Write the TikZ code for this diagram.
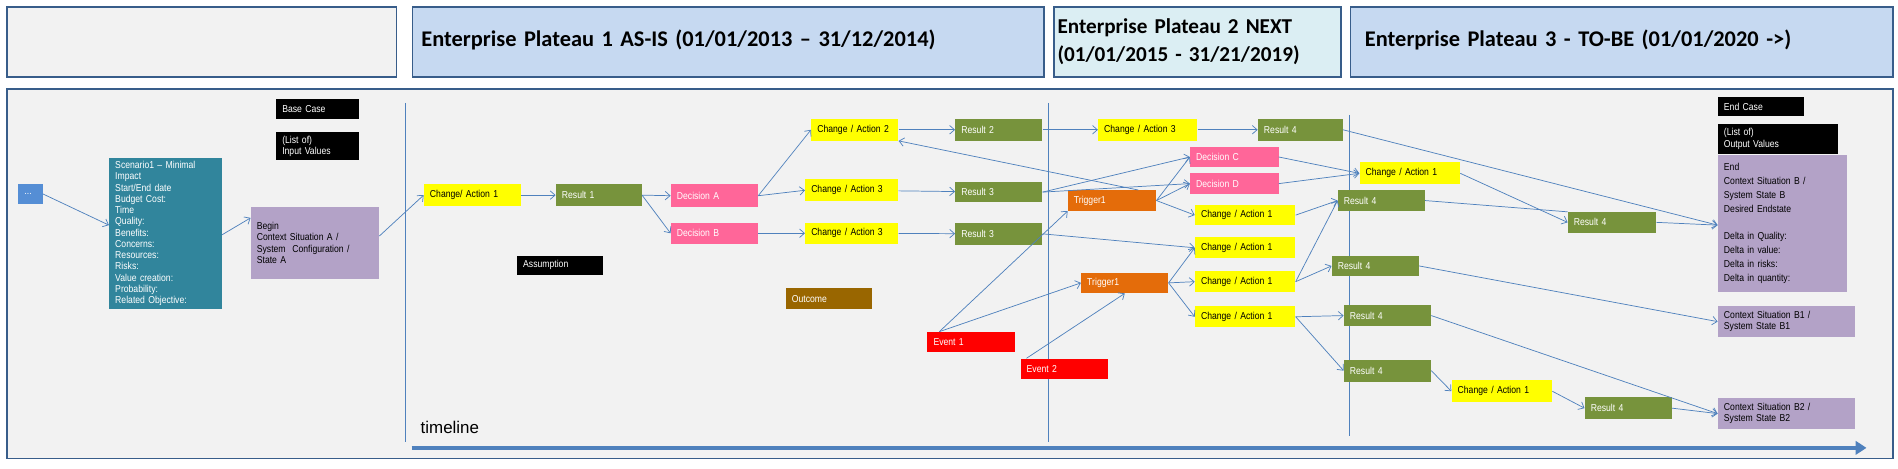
\documentclass[tikz,border=0pt]{standalone}
\usepackage{fontspec}
\setmainfont{Liberation Sans}
\newfontfamily\nar[FakeStretch=0.86]{Liberation Sans}
\newfontfamily\hdr{Carlito}
\usetikzlibrary{arrows.meta}
\definecolor{frameb}{HTML}{385D8A}
\definecolor{ln}{HTML}{4F81BD}
\definecolor{ylw}{HTML}{FFFF00}
\definecolor{grn}{HTML}{77933C}
\definecolor{pnk}{HTML}{FF6699}
\definecolor{org}{HTML}{E46C0A}
\definecolor{prp}{HTML}{B3A2C7}
\definecolor{teal}{HTML}{31859C}
\definecolor{brn}{HTML}{996600}
\definecolor{lbl}{HTML}{558ED5}
\definecolor{bgg}{HTML}{F2F2F2}
\definecolor{hb1}{HTML}{C6D9F1}
\definecolor{hb2}{HTML}{DBEEF3}
\tikzset{
 bx/.style={anchor=north west,inner xsep=5pt,inner ysep=2pt,align=left,font=\nar\fontsize{8.3}{9.3}\selectfont},
 ca/.style={bx,fill=ylw,text=black},
 rs/.style={bx,fill=grn,text=white},
 dc/.style={bx,fill=pnk,text=white},
 tg/.style={bx,fill=org,text=white},
 ev/.style={bx,fill=red,text=white},
 bk/.style={bx,fill=black,text=white},
 pp/.style={bx,fill=prp,text=black},
 ar/.style={draw=ln,line width=0.6pt,-{Straight Barb[length=4pt,width=7pt]}},
 hd/.style={draw=frameb,line width=1.3pt,anchor=north west,inner sep=0pt}
}
\newcommand\bxn[7]{\node[#6,minimum width={#4-#2},minimum height={#5-#3},text width={#4-#2-10}] (#1) at (#2,#3) {#7};}
\begin{document}
\begin{tikzpicture}[x=1pt,y=-1pt]
\useasboundingbox (0,0) rectangle (1568,387);
\fill[white] (0,0) rectangle (1568,387);
% header boxes
\node[hd,fill=bgg,minimum width=322,minimum height=58] (h0) at (5,5) {};
\node[hd,fill=hb1,minimum width=522,minimum height=58,text width=515,align=left,font=\hdr\bfseries\fontsize{18.5}{22}\selectfont] (h1) at (340,5) {\hspace*{4pt}\raisebox{7pt}{Enterprise Plateau 1 AS-IS (01/01/2013 – 31/12/2014)}};
\node[hd,fill=hb2,minimum width=237,minimum height=58,text width=235,align=left,font=\hdr\bfseries\fontsize{17.5}{23}\selectfont] (h2) at (870,5) {\hspace*{2pt}Enterprise Plateau 2 NEXT\\ \hspace*{2pt}(01/01/2015 - 31/21/2019)};
\node[hd,fill=hb1,minimum width=448,minimum height=58,text width=440,align=left,font=\hdr\bfseries\fontsize{18.5}{22}\selectfont] (h3) at (1115,5) {\hspace*{8pt}\raisebox{7pt}{Enterprise Plateau 3 - TO-BE (01/01/2020 ->)}};
% main frame
\node[hd,fill=bgg,minimum width=1558,minimum height=305] (mf) at (5,73) {};
\draw[ln,line width=0.6pt] (335,85) -- (335,365);
\draw[ln,line width=0.6pt] (866,85) -- (866,365);
\draw[ln,line width=0.6pt] (1115,95) -- (1115,360);
\node[anchor=west,font=\fontsize{14}{16}\selectfont] (tl) at (344,353) {timeline};
\coordinate (t0) at (340,370); \coordinate (t1) at (1542,370);
\draw[ln,line width=3pt,-{Triangle[length=9pt,width=11pt]}] (t0) -- (t1);
% nodes
\bxn{dots}{15}{152}{35}{168}{bx,fill=lbl,text=white,inner xsep=3pt}{...}
\bxn{scn}{90}{130}{183}{252}{bx,fill=teal,text=white,inner ysep=3pt}{Scenario1 – Minimal\\Impact\\Start/End date\\Budget Cost:\\Time\\Quality:\\Benefits:\\Concerns:\\Resources:\\Risks:\\Value creation:\\Probability:\\Related Objective:}
\bxn{base}{228}{82}{296}{98}{bk}{Base Case}
\bxn{inp}{228}{109}{296}{132}{bk}{(List of)\\Input Values}
\bxn{beg}{207}{171}{313}{230}{pp}{Begin\\Context Situation A /\\System\ \ Configuration /\\State A}
\bxn{ca1}{350}{152}{430}{170}{ca}{Change/ Action 1}
\bxn{r1}{459}{152}{530}{170}{rs}{Result 1}
\bxn{asm}{427}{211}{498}{227}{bk}{Assumption}
\bxn{da}{554}{152}{626}{171}{dc}{Decision A}
\bxn{db}{554}{184}{626}{201}{dc}{Decision B}
\bxn{ca2}{670}{98}{742}{116}{ca}{Change / Action 2}
\bxn{ca3a}{665}{148}{742}{166}{ca}{Change / Action 3}
\bxn{ca3b}{665}{184}{742}{201}{ca}{Change / Action 3}
\bxn{r2}{789}{98}{861}{116}{rs}{Result 2}
\bxn{r3a}{789}{150}{861}{167}{rs}{Result 3}
\bxn{r3b}{789}{184}{861}{202}{rs}{Result 3}
\bxn{out}{649}{238}{720}{255}{bx,fill=brn,text=white}{Outcome}
\bxn{ca3c}{907}{98}{989}{116}{ca}{Change / Action 3}
\bxn{r4t}{1039}{98}{1109}{116}{rs}{Result 4}
\bxn{dcc}{983}{121}{1056}{138}{dc}{Decision C}
\bxn{dcd}{983}{143}{1056}{160}{dc}{Decision D}
\bxn{t1a}{882}{157}{955}{174}{tg}{Trigger1}
\bxn{c1a}{987}{169}{1070}{186}{ca}{Change / Action 1}
\bxn{c1b}{987}{196}{1070}{213}{ca}{Change / Action 1}
\bxn{t1b}{893}{225}{965}{242}{tg}{Trigger1}
\bxn{c1c}{987}{224}{1070}{241}{ca}{Change / Action 1}
\bxn{c1d}{987}{253}{1070}{270}{ca}{Change / Action 1}
\bxn{ev1}{766}{274}{838}{291}{ev}{Event 1}
\bxn{ev2}{843}{296}{915}{313}{ev}{Event 2}
\bxn{c1e}{1123}{134}{1206}{152}{ca}{Change / Action 1}
\bxn{r4b}{1105}{157}{1177}{174}{rs}{Result 4}
\bxn{r4c}{1100}{211}{1172}{228}{rs}{Result 4}
\bxn{r4d}{1110}{252}{1182}{269}{rs}{Result 4}
\bxn{r4e}{1110}{297}{1182}{315}{rs}{Result 4}
\bxn{c1f}{1199}{314}{1282}{332}{ca}{Change / Action 1}
\bxn{r4f}{1309}{328}{1381}{346}{rs}{Result 4}
\bxn{r4g}{1295}{175}{1368}{192}{rs}{Result 4}
\bxn{endc}{1419}{80}{1490}{96}{bk}{End Case}
\bxn{outv}{1419}{102}{1518}{127}{bk}{(List of)\\Output Values}
\bxn{endb}{1419}{128}{1526}{241}{pp,font=\nar\fontsize{8.3}{11.4}\selectfont}{End\\Context Situation B /\\System State B\\Desired Endstate\\[11.4pt]Delta in Quality:\\Delta in value:\\Delta in risks:\\Delta in quantity:}
\bxn{sb1}{1419}{253}{1532}{278}{pp}{Context Situation B1 /\\System State B1}
\bxn{sb2}{1419}{329}{1532}{354}{pp}{Context Situation B2 /\\System State B2}
% connectors
\draw[ar] (dots.east) -- (scn.west|-0,186);
\draw[ar] (scn.east|-0,194) -- (beg.west|-0,180);
\draw[ar] (beg.east|-0,195) -- (ca1.west);
\draw[ar] (ca1) -- (r1);
\draw[ar] (r1.east) -- (da.west);
\draw[ar] (r1.east) -- (db.west);
\draw[ar] (da.east) -- (ca2.west);
\draw[ar] (da.east) -- (ca3a.west);
\draw[ar] (db.east) -- (ca3b.west);
\draw[ar] (ca2) -- (r2);
\draw[ar] (ca3a) -- (r3a);
\draw[ar] (ca3b) -- (r3b);
\draw[ar] (r2) -- (ca3c);
\draw[ar] (ca3c) -- (r4t);
\coordinate (tq) at ([xshift=-15pt]t1a.north east);
\draw[ar] (tq) -- (ca2.south east);
\draw[ar] (r3a.east) -- (dcc.west);
\draw[ar] (r3a.east) -- (dcd.west);
\coordinate (e1) at ([xshift=10pt]ev1.north west);
\coordinate (e2) at ([xshift=5pt]ev2.north west);
\draw[ar] (e1) -- (t1a.south west);
\draw[ar] (e1) -- (t1b.west);
\draw[ar] (e2) -- (t1b.south);
\draw[ar] (t1a.east) -- (dcc.west);
\draw[ar] (t1a.east) -- (dcd.west);
\draw[ar] (t1a.east) -- (c1a.west);
\draw[ar] (r3b.east) -- (c1b.west);
\draw[ar] (t1b.east) -- (c1b.west);
\draw[ar] (t1b.east) -- (c1c.west);
\draw[ar] (t1b.east) -- (c1d.west);
\draw[ar] (dcc.east) -- (c1e.west);
\draw[ar] (dcd.east) -- (c1e.west);
\draw[ar] (c1a.east) -- (r4b.west);
\draw[ar] (c1c.east) -- (r4b.west);
\draw[ar] (c1c.east) -- (r4c.west);
\draw[ar] (c1d.east) -- (r4d.west);
\draw[ar] (c1d.east) -- (r4e.west);
\draw[ar] (r4e.east) -- (c1f.west);
\draw[ar] (c1f.east) -- (r4f.west);
\draw[ar] (r4f.east) -- (sb2.west);
\draw[ar] (r4d.east) -- (sb2.west);
\draw[ar] (r4c.east) -- (sb1.west);
\draw[ar] (c1e.east) -- (r4g.west);
\draw[draw=ln,line width=0.6pt] (r4b.east) -- (r4g.north west);
\draw[ar] (r4g.east) -- (endb.west|-0,186);
\draw[ar] (r4t.east) -- (endb.west|-0,186);
\end{tikzpicture}
\end{document}
